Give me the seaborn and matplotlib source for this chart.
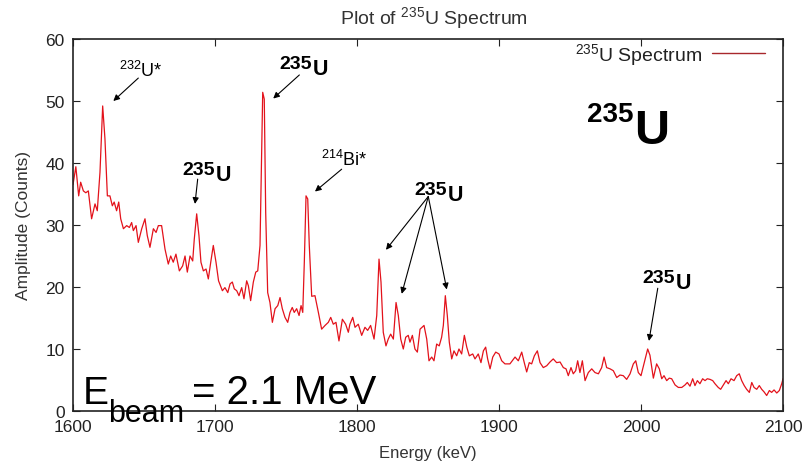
import numpy as np
import pandas as pd
import matplotlib
matplotlib.use("Agg")
import matplotlib.pyplot as plt
import seaborn as sns

energy = [
    1600.0, 1601.0, 1602.0, 1604.0, 1605.4, 1607.3, 1609.0, 1610.8, 1613.1, 1615.5,
    1617.1, 1619.0, 1620.9, 1622.5, 1624.2, 1626.0, 1627.7, 1629.0, 1630.7, 1632.2,
    1633.6, 1635.5, 1637.8, 1639.7, 1641.3, 1642.5, 1644.4, 1646.0, 1648.4, 1650.7,
    1652.3, 1654.2, 1656.6, 1658.5, 1660.1, 1662.4, 1664.8, 1667.1, 1668.8, 1670.6,
    1672.5, 1674.9, 1677.2, 1678.9, 1680.5, 1682.4, 1684.3, 1685.4, 1687.1, 1688.7,
    1690.1, 1691.8, 1693.7, 1695.3, 1697.0, 1698.8, 1700.7, 1702.5, 1705.2, 1707.0,
    1709.0, 1710.6, 1712.2, 1713.6, 1715.3, 1716.9, 1718.8, 1720.4, 1722.3, 1723.5,
    1725.1, 1727.0, 1728.7, 1730.1, 1731.7, 1732.9, 1733.6, 1734.7, 1735.7, 1737.1,
    1738.7, 1740.4, 1742.3, 1744.2, 1745.8, 1747.4, 1749.3, 1751.2, 1752.8, 1754.4,
    1755.8, 1757.5, 1759.2, 1760.6, 1761.8, 1762.9, 1764.1, 1765.3, 1766.4, 1768.1,
    1770.4, 1772.8, 1775.1, 1777.5, 1779.8, 1781.5, 1783.3, 1785.2, 1787.3, 1789.7,
    1792.0, 1793.9, 1795.0, 1797.0, 1798.6, 1800.9, 1803.3, 1805.6, 1807.5, 1809.6,
    1812.0, 1813.9, 1815.5, 1816.9, 1818.5, 1820.4, 1822.0, 1823.7, 1825.6, 1827.5,
    1829.1, 1830.8, 1832.6, 1834.3, 1836.1, 1837.3, 1839.0, 1840.8, 1842.5, 1844.4,
    1847.2, 1849.1, 1850.7, 1852.6, 1854.2, 1856.1, 1857.9, 1859.6, 1860.8, 1862.2,
    1863.6, 1865.0, 1866.7, 1868.3, 1870.2, 1871.8, 1873.7, 1875.6, 1877.3, 1879.1,
    1881.5, 1883.1, 1885.4, 1887.3, 1889.0, 1890.6, 1892.0, 1893.7, 1895.6, 1897.7,
    1900.0, 1901.9, 1904.2, 1907.7, 1911.3, 1913.6, 1916.0, 1917.8, 1919.5, 1921.3,
    1923.0, 1924.9, 1927.0, 1928.9, 1931.2, 1933.6, 1935.9, 1938.2, 1940.6, 1943.0,
    1945.3, 1947.2, 1948.8, 1950.7, 1952.3, 1954.0, 1955.4, 1957.0, 1958.7, 1960.6,
    1962.9, 1965.3, 1967.6, 1970.0, 1972.3, 1974.0, 1975.8, 1978.2, 1980.5, 1982.9,
    1985.2, 1987.5, 1989.9, 1992.3, 1994.6, 1996.3, 1998.1, 2000.0, 2002.3, 2004.7,
    2006.3, 2008.7, 2011.0, 2012.9, 2014.6, 2016.2, 2018.1, 2019.9, 2021.6, 2024.0,
    2026.3, 2028.7, 2031.0, 2032.6, 2034.5, 2036.4, 2038.0, 2039.7, 2041.5, 2043.4,
    2045.1, 2046.7, 2048.6, 2050.5, 2052.1, 2054.4, 2056.1, 2058.0, 2059.9, 2061.5,
    2063.4, 2065.5, 2067.4, 2069.2, 2070.9, 2072.7, 2074.4, 2076.3, 2078.0, 2079.6,
    2081.5, 2083.3, 2085.0, 2086.6, 2088.5, 2090.4, 2092.0, 2093.7, 2095.6, 2097.4,
    2099.1, 2100.0,
]
amplitude = [
    36.5, 38.0, 39.4, 34.7, 36.9, 35.5, 35.2, 35.5, 31.0, 33.4,
    32.3, 38.5, 49.2, 43.9, 34.7, 34.7, 33.1, 33.7, 32.3, 33.7,
    31.0, 29.4, 29.9, 29.6, 30.4, 29.1, 29.9, 27.2, 29.4, 31.0,
    28.3, 26.4, 29.4, 28.8, 29.9, 29.9, 26.1, 23.7, 25.0, 24.0,
    25.3, 22.6, 23.4, 25.0, 22.4, 25.0, 24.2, 27.7, 31.8, 28.3,
    24.0, 22.6, 22.9, 21.3, 24.0, 26.7, 24.0, 21.0, 19.4, 19.9,
    19.1, 20.5, 20.8, 19.7, 19.4, 18.6, 19.9, 18.1, 21.0, 20.2,
    17.8, 20.8, 22.4, 22.6, 26.7, 42.8, 51.4, 50.3, 32.0, 19.1,
    17.5, 14.3, 16.5, 17.0, 18.3, 16.5, 15.1, 14.3, 15.9, 16.7,
    15.9, 16.5, 15.4, 17.0, 15.9, 24.0, 34.7, 34.2, 26.7, 18.5,
    18.6, 15.9, 13.2, 13.8, 14.3, 15.1, 14.0, 14.3, 11.3, 14.8,
    14.0, 12.7, 14.0, 15.1, 13.5, 14.0, 12.2, 13.5, 13.0, 13.8,
    11.6, 15.4, 24.5, 20.8, 12.7, 10.5, 11.6, 12.4, 11.6, 17.5,
    15.4, 11.6, 10.0, 11.9, 12.2, 11.1, 12.2, 10.0, 9.5, 13.2,
    13.8, 11.6, 8.1, 8.7, 8.1, 10.8, 10.5, 11.9, 13.8, 18.6,
    15.4, 11.1, 8.4, 9.7, 8.9, 10.0, 9.2, 12.2, 10.3, 8.9,
    9.2, 8.4, 9.2, 7.8, 9.7, 10.3, 8.4, 6.8, 8.7, 9.5,
    9.2, 8.1, 7.6, 7.6, 8.7, 8.1, 9.5, 7.8, 6.3, 7.8,
    7.6, 8.9, 9.7, 7.8, 7.0, 7.3, 7.9, 8.4, 7.8, 7.9,
    7.0, 6.8, 5.7, 7.0, 6.0, 6.5, 8.1, 6.2, 8.1, 4.9,
    6.2, 6.8, 6.2, 6.0, 7.0, 8.7, 7.0, 6.8, 6.5, 5.4,
    5.8, 5.7, 5.1, 6.0, 7.6, 8.1, 6.2, 5.7, 7.8, 10.0,
    9.0, 5.3, 7.6, 6.8, 5.2, 5.7, 4.9, 5.3, 5.2, 4.2,
    3.8, 3.8, 4.2, 4.6, 4.0, 5.2, 4.1, 4.9, 4.4, 5.2,
    4.9, 5.2, 5.1, 4.9, 4.4, 3.8, 3.5, 4.2, 4.9, 4.4,
    5.2, 4.9, 5.7, 6.0, 4.9, 4.1, 3.5, 3.0, 4.6, 3.8,
    3.5, 4.1, 3.5, 3.1, 2.5, 3.3, 3.0, 3.4, 2.9, 3.3,
    4.4, 5.2,
]
x_ticks = [1600, 1700, 1800, 1900, 2000, 2100]
y_ticks = [0, 10, 20, 30, 40, 50, 60]

sns.set_theme(style="ticks")
plt.rcParams["font.family"] = ["Liberation Sans", "DejaVu Sans"]
plt.rcParams["mathtext.fontset"] = "custom"
plt.rcParams["mathtext.rm"] = "Liberation Sans"
plt.rcParams["mathtext.it"] = "Liberation Sans:italic"
plt.rcParams["mathtext.bf"] = "Liberation Sans:bold"
plt.rcParams["text.color"] = "black"

df = pd.DataFrame({"Energy": energy, "Amplitude": amplitude})

fig = plt.figure(figsize=(8.08, 4.64), dpi=100)
ax = fig.add_axes([73 / 808, 1 - 412 / 464, 710 / 808, 372 / 464])

red = "#e3121b"
sns.lineplot(data=df, x="Energy", y="Amplitude", ax=ax, color=red, lw=0.9,
             sort=False, estimator=None, label="$^{235}$U Spectrum")

ax.set_xlim(1600, 2100)
ax.set_ylim(0, 60)
ax.set_xticks(x_ticks)
ax.set_yticks(y_ticks)
ax.tick_params(direction="in", length=5, width=0.8, top=True, right=True,
               labelsize=12.5, colors="#222222", pad=6)
ax.tick_params(axis="x", labeltop=False)
ax.tick_params(axis="y", labelright=False)
for sp in ax.spines.values():
    sp.set_visible(True)
    sp.set_color("#222222")
    sp.set_linewidth(1.2)

ax.set_xlabel("Energy (keV)", fontsize=12, color="#333333", labelpad=8)
ax.set_ylabel("Amplitude (Counts)", fontsize=12.5, color="#333333", labelpad=10)

leg = ax.legend(loc="upper right", frameon=False, markerfirst=False,
                fontsize=14, handlelength=2.7, borderaxespad=0.0,
                handletextpad=0.5, bbox_to_anchor=(0.985, 1.015))
for ln in leg.get_lines():
    ln.set_color("#a8282c")
    ln.set_linewidth(1.0)
for t in leg.get_texts():
    t.set_color("#222222")

fig.text(434 / 808, 1 - 18 / 464, "Plot of $^{235}$U Spectrum", ha="center",
         va="center", fontsize=14, color="#333333")

arrow = dict(arrowstyle="-|>", color="black", lw=0.8, mutation_scale=9,
             shrinkA=0, shrinkB=0)

# 232U* label
ax.text(1632.4, 54.1, "$^{232}$U*", fontsize=13, ha="left", va="baseline")
ax.annotate("", xy=(1628.4, 50.0), xytext=(1646.0, 53.7), arrowprops=arrow)

# 214Bi* label
ax.text(1774.4, 39.6, "$^{214}$Bi*", fontsize=13, ha="left", va="baseline")
ax.annotate("", xy=(1770.4, 35.4), xytext=(1789.2, 39.0), arrowprops=arrow)


def iso_label(x_right, y_num, y_u, size=14):
    ax.text(x_right, y_num, "235", fontsize=size, fontweight="bold",
            ha="right", va="baseline")
    ax.text(x_right + 0.5, y_u, "U", fontsize=size + 1.5, fontweight="bold",
            ha="left", va="baseline")


iso_label(1700.0, 38.2, 37.3)
ax.annotate("", xy=(1685.9, 33.4), xytext=(1687.8, 37.4), arrowprops=arrow)

iso_label(1768.1, 55.4, 54.4)
ax.annotate("", xy=(1741.0, 50.4), xytext=(1759.4, 54.2), arrowprops=arrow)

iso_label(1863.4, 35.0, 34.0)
for hx, hy in [(1820.4, 26.0), (1831.5, 18.9), (1863.2, 19.6)]:
    ax.annotate("", xy=(hx, hy), xytext=(1850.2, 34.6), arrowprops=arrow)

iso_label(2023.9, 20.8, 19.8)
ax.annotate("", xy=(2005.6, 11.3), xytext=(2011.8, 19.8), arrowprops=arrow)

# big label
ax.text((633 - 73) / 710, (412 - 122) / 372, "235",
        transform=ax.transAxes, fontsize=20, fontweight="bold",
        ha="right", va="baseline")
ax.text((634 - 73) / 710, (412 - 144) / 372, "U", transform=ax.transAxes,
        fontsize=35, fontweight="bold", ha="left", va="baseline")

# E_beam text
ax.text((83 - 73) / 710, (412 - 404) / 372, "E", transform=ax.transAxes,
        fontsize=28, ha="left", va="baseline", clip_on=False)
ax.text((108 - 73) / 710, (412 - 422) / 372, "beam", transform=ax.transAxes,
        fontsize=22, ha="left", va="baseline", clip_on=False)
ax.text((192 - 73) / 710, (412 - 404) / 372, "= 2.1 MeV", transform=ax.transAxes,
        fontsize=29, ha="left", va="baseline", clip_on=False)

fig.savefig("out.png", dpi=100)
